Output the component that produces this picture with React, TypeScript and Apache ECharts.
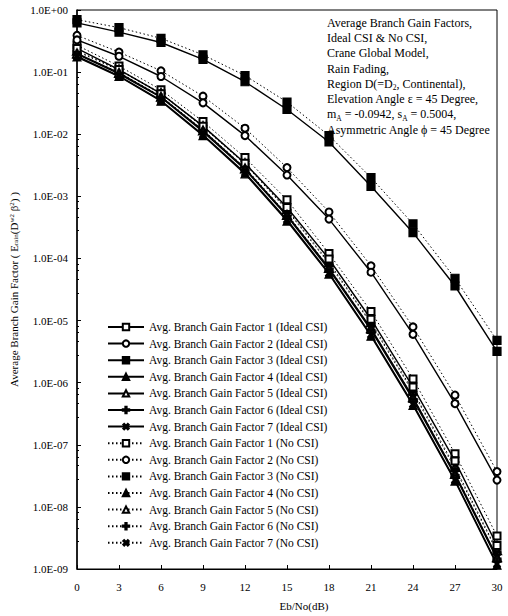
import React, { useEffect, useRef } from "react";
import * as echarts from "echarts";

const snr = [0, 3, 6, 9, 12, 15, 18, 21, 24, 27, 30];
const yTickLabels = ["1.0E-09", "1.0E-08", "1.0E-07", "1.0E-06", "1.0E-05", "1.0E-04", "1.0E-03", "1.0E-02", "1.0E-01", "1.0E+00"];

const f1Ideal = [0.24, 0.11, 0.045, 0.0135, 0.0034, 0.00066, 9.8e-5, 1.05e-5, 8.5e-7, 5.5e-8, 2.4e-9];
const f2Ideal = [0.33, 0.18, 0.085, 0.032, 0.0095, 0.0022, 0.00043, 6.0e-5, 6.0e-6, 4.6e-7, 2.7e-8];
const f3Ideal = [0.62, 0.44, 0.3, 0.16, 0.07, 0.025, 0.0075, 0.00145, 0.00026, 3.6e-5, 3.2e-6];
const f4Ideal = [0.175, 0.085, 0.034, 0.0095, 0.0023, 0.0004, 5.6e-5, 5.6e-6, 4.3e-7, 2.6e-8, 1.15e-9];
const f5Ideal = [0.2, 0.097, 0.04, 0.0115, 0.0028, 0.0005, 7.0e-5, 7.5e-6, 5.8e-7, 3.4e-8, 1.55e-9];
const f6Ideal = [0.195, 0.094, 0.039, 0.011, 0.0027, 0.00048, 6.6e-5, 7.0e-6, 5.4e-7, 3.2e-8, 1.45e-9];
const f7Ideal = [0.18, 0.087, 0.035, 0.0098, 0.0024, 0.00042, 5.8e-5, 5.9e-6, 4.5e-7, 2.7e-8, 1.2e-9];

const f1NoCsi = [0.27, 0.125, 0.052, 0.016, 0.0042, 0.00088, 0.00012, 1.4e-5, 1.15e-6, 7.2e-8, 3.4e-9];
const f2NoCsi = [0.39, 0.21, 0.105, 0.041, 0.0125, 0.0029, 0.00056, 7.6e-5, 7.9e-6, 6.3e-7, 3.7e-8];
const f3NoCsi = [0.7, 0.52, 0.35, 0.19, 0.088, 0.033, 0.0095, 0.002, 0.00036, 4.8e-5, 4.8e-6];
const f4NoCsi = [0.195, 0.097, 0.04, 0.0115, 0.0028, 0.0005, 7.0e-5, 7.2e-6, 5.6e-7, 3.4e-8, 1.5e-9];
const f5NoCsi = [0.22, 0.11, 0.046, 0.0135, 0.0034, 0.00062, 8.6e-5, 9.4e-6, 7.4e-7, 4.4e-8, 2.0e-9];
const f6NoCsi = [0.215, 0.107, 0.045, 0.013, 0.0033, 0.0006, 8.2e-5, 8.9e-6, 7.0e-7, 4.1e-8, 1.9e-9];
const f7NoCsi = [0.2, 0.099, 0.041, 0.0118, 0.0029, 0.00052, 7.2e-5, 7.5e-6, 5.8e-7, 3.5e-8, 1.55e-9];

const idealNames = [1, 2, 3, 4, 5, 6, 7].map((i) => `Avg. Branch Gain Factor ${i} (Ideal CSI)`);
const noCsiNames = [1, 2, 3, 4, 5, 6, 7].map((i) => `Avg. Branch Gain Factor ${i} (No CSI)`);

const annotationLines = [
  "Average Branch Gain Factors,",
  "Ideal CSI & No CSI,",
  "Crane Global Model,",
  "Rain Fading,",
  "Region D(=D{sub|2}, Continental),",
  "Elevation Angle ε = 45 Degree,",
  "m{sub|A} = -0.0942, s{sub|A} = 0.5004,",
  "Asymmetric Angle ϕ = 45 Degree",
];

const FONT = '"Liberation Serif", "Times New Roman", serif';
const PLUS = "path://M4,0H6V4H10V6H6V10H4V6H0V4H4Z";

const symbols: { symbol: string; rotate: number; size: number }[] = [
  { symbol: "emptyRect", rotate: 0, size: 7 },
  { symbol: "emptyCircle", rotate: 0, size: 7 },
  { symbol: "rect", rotate: 0, size: 8 },
  { symbol: "triangle", rotate: 0, size: 8 },
  { symbol: "emptyTriangle", rotate: 0, size: 8 },
  { symbol: PLUS, rotate: 0, size: 8 },
  { symbol: PLUS, rotate: 45, size: 8 },
];

export default function App() {
  const ref = useRef<HTMLDivElement>(null);
  useEffect(() => {
    if (!ref.current) return;
    const chart = echarts.init(ref.current, undefined, { renderer: "svg" });
    const ideal = [f1Ideal, f2Ideal, f3Ideal, f4Ideal, f5Ideal, f6Ideal, f7Ideal];
    const noCsi = [f1NoCsi, f2NoCsi, f3NoCsi, f4NoCsi, f5NoCsi, f6NoCsi, f7NoCsi];
    const mk = (name: string, vals: number[], idx: number, dotted: boolean) => ({
      name,
      type: "line",
      data: snr.map((x, i) => [x, vals[i]]),
      symbol: symbols[idx].symbol,
      symbolRotate: symbols[idx].rotate,
      symbolSize: symbols[idx].size,
      showAllSymbol: true,
      color: "#000",
      itemStyle: { color: "#000", borderColor: "#000", borderWidth: 1.2 },
      lineStyle: dotted
        ? { color: "#000", width: 1, type: [1.5, 2.5] }
        : { color: "#000", width: 1.4, type: "solid" },
      z: dotted ? 2 : 3,
    });
    const series = [
      ...ideal.map((v, i) => mk(idealNames[i], v, i, false)),
      ...noCsi.map((v, i) => mk(noCsiNames[i], v, i, true)),
    ];
    chart.setOption({
      animation: false,
      backgroundColor: "#fff",
      textStyle: { fontFamily: FONT, color: "#000" },
      grid: {
        left: 77,
        right: 11,
        top: 10,
        bottom: 45,
        show: true,
        borderColor: "#000",
        borderWidth: 1,
      },
      xAxis: {
        type: "value",
        min: 0,
        max: 30,
        interval: 3,
        name: "Eb/No(dB)",
        nameLocation: "middle",
        nameGap: 31,
        nameTextStyle: { fontFamily: FONT, fontSize: 11, color: "#000", padding: [0, 0, 0, 34] },
        axisLine: { lineStyle: { color: "#000", width: 1 } },
        axisTick: { inside: true, length: 4, lineStyle: { color: "#000" } },
        axisLabel: { fontFamily: FONT, fontSize: 11, color: "#000", margin: 12 },
        splitLine: { show: false },
      },
      yAxis: {
        type: "log",
        logBase: 10,
        min: 1e-9,
        max: 1,
        name: "Average Branch Gain Factor ( E{sub|rain}(D{sup|w2} β{sup|2}) )",
        nameLocation: "middle",
        nameGap: 55,
        nameTextStyle: {
          fontFamily: FONT,
          fontSize: 11,
          color: "#000",
          rich: {
            sub: { fontFamily: FONT, fontSize: 7, color: "#000", verticalAlign: "bottom" },
            sup: { fontFamily: FONT, fontSize: 7, color: "#000", verticalAlign: "top" },
          },
        },
        axisLine: { lineStyle: { color: "#000", width: 1.5 } },
        axisTick: { inside: true, length: 4, lineStyle: { color: "#000" } },
        minorTick: { show: true, splitNumber: 5, length: 2, lineStyle: { color: "#000" } },
        axisLabel: {
          fontFamily: FONT,
          fontSize: 11,
          color: "#000",
          margin: 9,
          formatter: (v: number) => {
            const e = Math.round(Math.log10(v));
            return yTickLabels[e + 9] ?? "";
          },
        },
        splitLine: { show: false },
      },
      legend: {
        orient: "vertical",
        left: 107,
        top: 321,
        padding: 0,
        itemWidth: 36,
        itemHeight: 8,
        itemGap: 4.6,
        data: [...idealNames, ...noCsiNames],
        textStyle: { fontFamily: FONT, fontSize: 11.5, color: "#000", lineHeight: 12 },
      },
      graphic: [
        {
          type: "text",
          left: 327,
          top: 15,
          z: 10,
          style: {
            text: annotationLines.join("\n"),
            fontFamily: FONT,
            fontSize: 12,
            lineHeight: 15.3,
            fill: "#000",
            align: "left",
            rich: {
              sub: { fontFamily: FONT, fontSize: 7.5, fill: "#000", verticalAlign: "bottom", lineHeight: 15.3 },
            },
          },
        },
      ],
      series,
    });
    return () => chart.dispose();
  }, []);
  return <div ref={ref} style={{ width: 508, height: 616, position: "absolute", left: 0, top: 0 }} />;
}
